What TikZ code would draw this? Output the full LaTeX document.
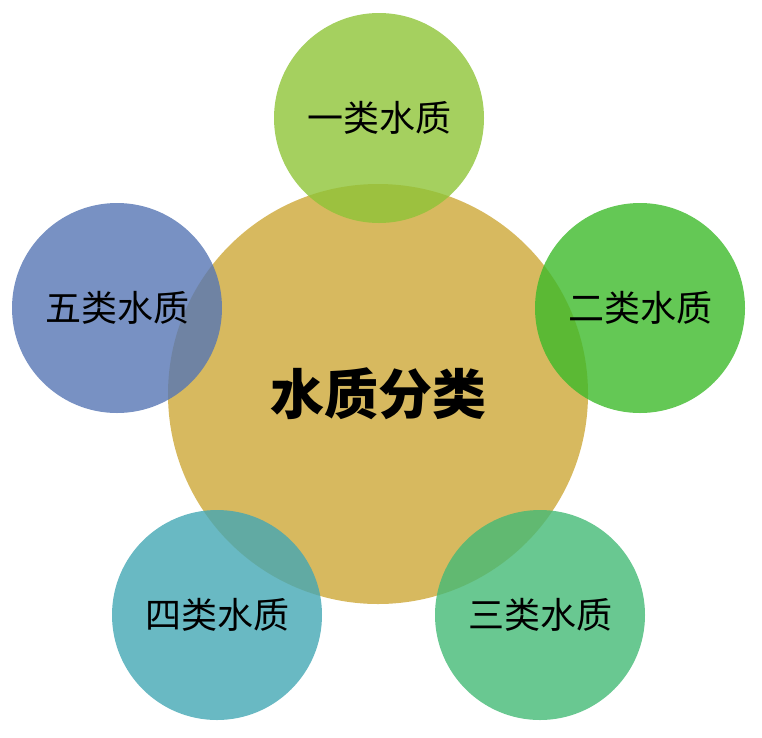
\documentclass[tikz,border=0pt]{standalone}
\usepackage{fontspec}
\newfontfamily\cjk{Noto Sans CJK SC}
\definecolor{goldc}{RGB}{215,185,95}
\definecolor{limec}{RGB}{142,196,55}
\definecolor{grassc}{RGB}{61,186,42}
\definecolor{mintc}{RGB}{68,186,118}
\definecolor{tealc}{RGB}{68,167,180}
\definecolor{slatec}{RGB}{86,118,180}
\tikzset{
  hub/.style={circle, fill=goldc, minimum size=420pt, inner sep=0pt,
    font=\cjk\bfseries\fontsize{54}{60}\selectfont},
  petal/.style={circle, fill=#1, fill opacity=0.8, text opacity=1,
    minimum size=210pt, inner sep=0pt, font=\cjk\fontsize{36}{42}\selectfont}
}
\begin{document}
\begin{tikzpicture}[x=1pt, y=-1pt]
  \useasboundingbox (0, 0) rectangle (762, 737);

  % Centre
  \node [hub] (hub) at (378, 394) {水质分类};

  % Classes
  \node [petal=limec] (one) at (379, 118) {一类水质};
  \node [petal=grassc] (two) at (640, 308) {二类水质};
  \node [petal=mintc] (three) at (540, 615) {三类水质};
  \node [petal=tealc] (four) at (217, 615) {四类水质};
  \node [petal=slatec] (five) at (117, 308) {五类水质};
\end{tikzpicture}
\end{document}
